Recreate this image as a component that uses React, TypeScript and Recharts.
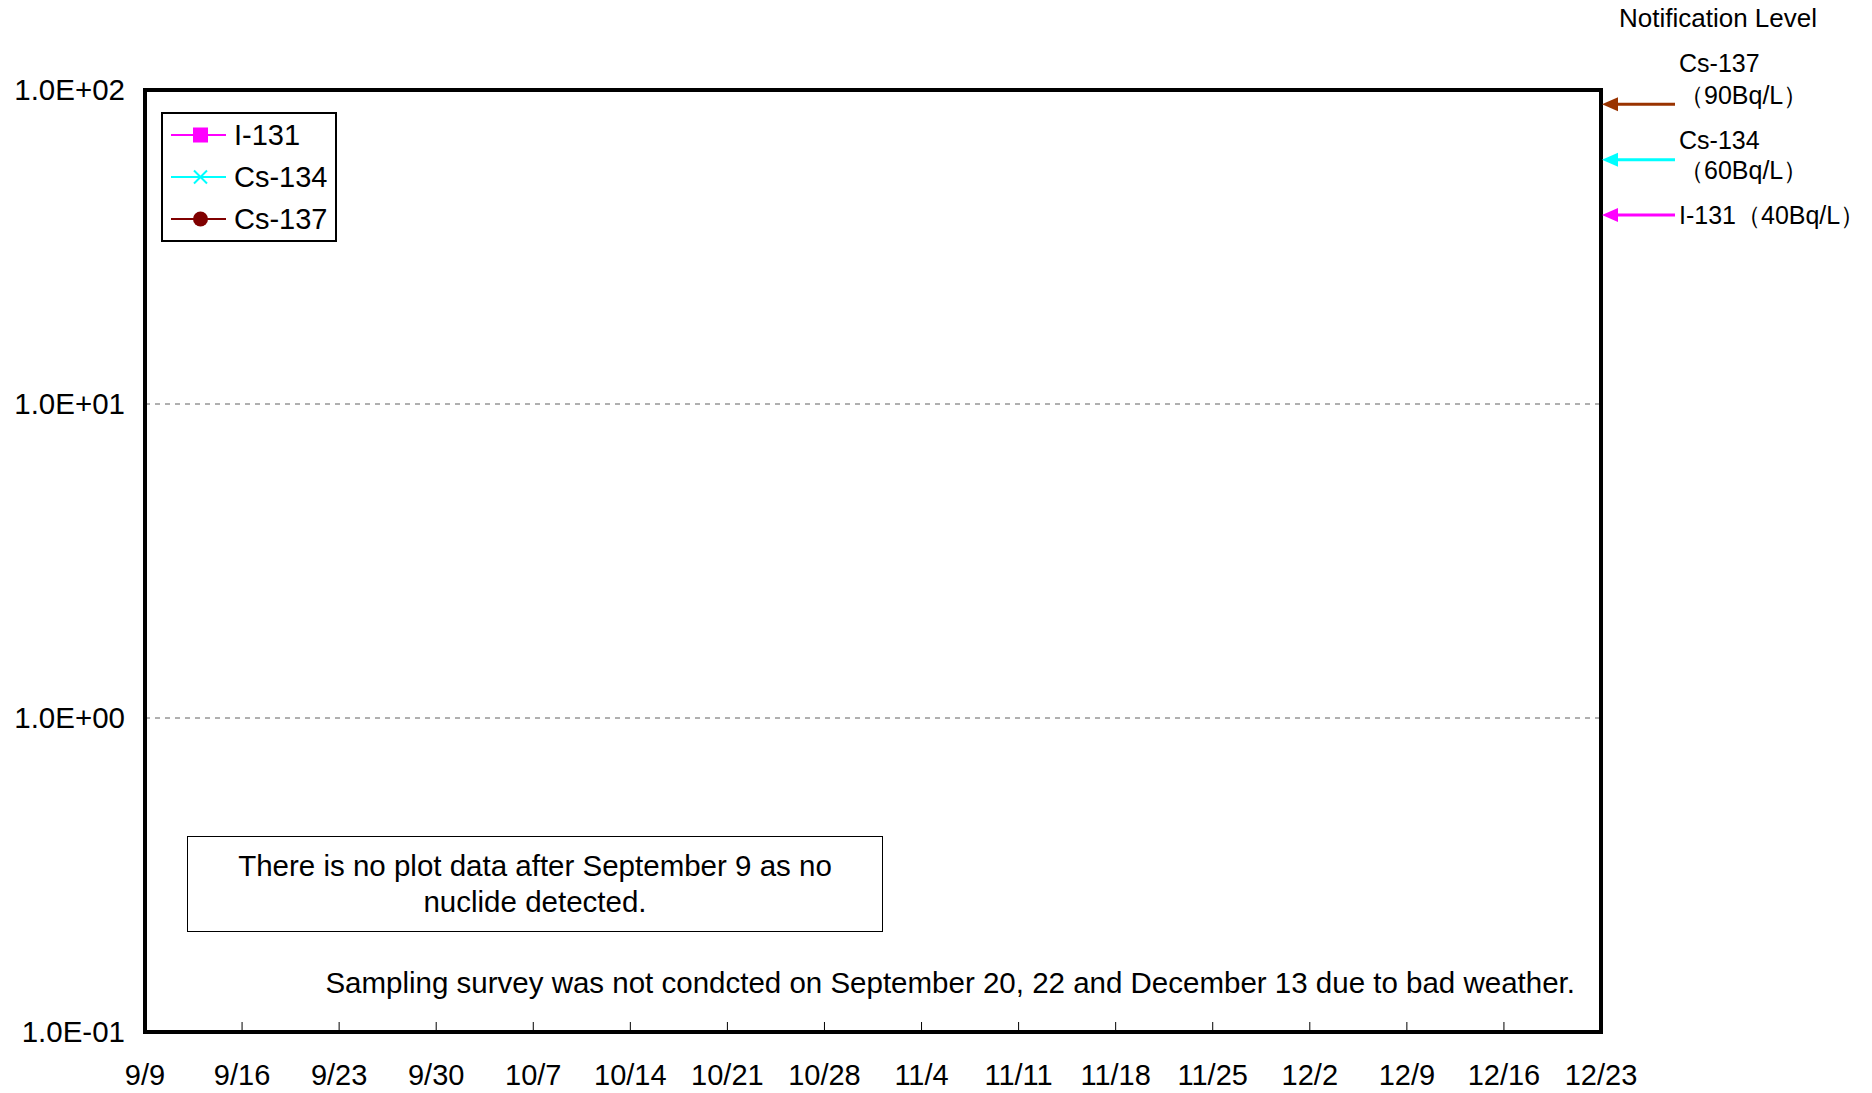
import React from 'react';
import { LineChart, Line, XAxis, YAxis, CartesianGrid, Legend, ReferenceLine, ReferenceArea } from 'recharts';

const FONT = '"Liberation Sans", Arial, sans-serif';

// x axis: weekly ticks, counted in days from 9/9
const dateLabels = ['9/9', '9/16', '9/23', '9/30', '10/7', '10/14', '10/21', '10/28', '11/4', '11/11', '11/18', '11/25', '12/2', '12/9', '12/16', '12/23'];
const dayOffsets = [0, 7, 14, 21, 28, 35, 42, 49, 56, 63, 70, 77, 84, 91, 98, 105];
const yTicks = [0.1, 1, 10, 100];

// no nuclide detected after 9/9, so nothing is plotted
const i131Values: (number | null)[] = [null, null, null, null, null, null, null, null, null, null, null, null, null, null, null, null];
const cs134Values: (number | null)[] = [null, null, null, null, null, null, null, null, null, null, null, null, null, null, null, null];
const cs137Values: (number | null)[] = [null, null, null, null, null, null, null, null, null, null, null, null, null, null, null, null];

const seriesKeys = ['i131', 'cs134', 'cs137'];
const seriesNames = ['I-131', 'Cs-134', 'Cs-137'];
const seriesColors = ['#FF00FF', '#00FFFF', '#800000'];

// notification levels (Bq/L)
const notifNames = ['Cs-137', 'Cs-134', 'I-131'];
const notifLevels = [90, 60, 40];
const notifColors = ['#993300', '#00FFFF', '#FF00FF'];

const data = dayOffsets.map((day, i) => ({
  day,
  i131: i131Values[i],
  cs134: cs134Values[i],
  cs137: cs137Values[i],
}));

const formatExp = (v: number) => {
  const e = Math.round(Math.log10(v));
  return `1.0E${e < 0 ? '-' : '+'}${String(Math.abs(e)).padStart(2, '0')}`;
};

const XTick = (props: any) => {
  const { x, y, payload } = props;
  const idx = dayOffsets.indexOf(payload.value);
  return (
    <g>
      <line x1={x} x2={x} y1={y} y2={y - 10} stroke="#000" strokeWidth={1} />
      <text x={x} y={y + 53} textAnchor="middle" fontSize={29} fontFamily={FONT} fill="#000">
        {dateLabels[idx]}
      </text>
    </g>
  );
};

const Marker = ({ name, color }: { name: string; color: string }) => {
  if (name === 'I-131') return <rect x={30} y={13.5} width={15} height={15} fill={color} />;
  if (name === 'Cs-134')
    return (
      <g stroke={color} strokeWidth={2}>
        <line x1={31} y1={14.5} x2={44} y2={27.5} />
        <line x1={44} y1={14.5} x2={31} y2={27.5} />
      </g>
    );
  return <circle cx={37.5} cy={21} r={7.5} fill={color} />;
};

const LegendBox = () => (
  <div style={{ width: 172, height: 126, border: '2px solid #000', background: '#fff', display: 'flex', flexDirection: 'column' }}>
    {seriesNames.map((name, i) => (
      <div key={name} style={{ height: 42, display: 'flex', alignItems: 'center' }}>
        <svg width={71} height={42} style={{ flexShrink: 0 }}>
          <line x1={8} x2={63} y1={21} y2={21} stroke={seriesColors[i]} strokeWidth={2} />
          <Marker name={name} color={seriesColors[i]} />
        </svg>
        <span style={{ fontFamily: FONT, fontSize: 29, lineHeight: 1, color: '#000' }}>{name}</span>
      </div>
    ))}
  </div>
);

// label placement next to each notification arrow
const notifLayout = [
  { nameDy: -41, levelDy: -9 },
  { nameDy: -20, levelDy: 10 },
  { nameDy: 0, levelDy: 0 },
];

const NotifArrow = (props: any) => {
  const { viewBox, idx } = props;
  const x = viewBox.x + viewBox.width;
  const y = viewBox.y;
  const color = notifColors[idx];
  const level = `（${notifLevels[idx]}Bq/L）`;
  const lay = notifLayout[idx];
  return (
    <g>
      <line x1={x + 12} x2={x + 74} y1={y} y2={y} stroke={color} strokeWidth={3} />
      <polygon points={`${x + 1},${y} ${x + 17},${y - 7} ${x + 17},${y + 7}`} fill={color} />
      {notifNames[idx] === 'I-131' ? (
        <text x={x + 78} y={y + 9} fontSize={25} fontFamily={FONT} fill="#000">
          {notifNames[idx] + level}
        </text>
      ) : (
        <g>
          <text x={x + 78} y={y + lay.nameDy + 9} fontSize={25} fontFamily={FONT} fill="#000">
            {notifNames[idx]}
          </text>
          <text x={x + 78} y={y + lay.levelDy + 9} fontSize={25} fontFamily={FONT} fill="#000">
            {level}
          </text>
        </g>
      )}
    </g>
  );
};

const App: React.FC = () => {
  return (
    <div style={{ position: 'absolute', left: 0, top: 0, width: 1872, height: 1093, background: '#fff' }}>
      <LineChart width={1872} height={1093} data={data} margin={{ top: 90, right: 271, bottom: 0, left: 0 }}>
        <CartesianGrid vertical={false} stroke="#606060" strokeDasharray="5 5" />
        <XAxis
          dataKey="day"
          type="number"
          domain={[0, 105]}
          ticks={dayOffsets}
          height={61}
          axisLine={false}
          tickLine={false}
          tickSize={0}
          tickMargin={0}
          tick={<XTick />}
          interval={0}
        />
        <YAxis
          scale="log"
          domain={[0.1, 100]}
          ticks={yTicks}
          allowDataOverflow
          width={145}
          axisLine={false}
          tickLine={false}
          tickSize={0}
          tickMargin={20}
          tickFormatter={formatExp}
          tick={{ fontSize: 29.5, fill: '#000', fontFamily: FONT }}
          interval={0}
        />
        {seriesKeys.map((key, i) => (
          <Line
            key={key}
            dataKey={key}
            name={seriesNames[i]}
            stroke={seriesColors[i]}
            strokeWidth={2}
            isAnimationActive={false}
          />
        ))}
        {notifLevels.map((lv, i) => (
          <ReferenceLine key={lv} y={lv} strokeWidth={0} stroke="none" label={(p: any) => <NotifArrow {...p} idx={i} />} />
        ))}
        <ReferenceArea x1={0} x2={105} y1={0.1} y2={100} fill="none" stroke="#000" strokeWidth={4} ifOverflow="visible" />
        <Legend
          layout="vertical"
          align="center"
          verticalAlign="middle"
          content={() => <LegendBox />}
          wrapperStyle={{ left: 161, top: 112, width: 176, height: 130 }}
        />
      </LineChart>

      <div style={{ position: 'absolute', left: 1617, top: 2, width: 202, textAlign: 'center', fontFamily: FONT, fontSize: 26, lineHeight: '32px', color: '#000' }}>
        Notification Level
      </div>

      <div
        style={{
          position: 'absolute',
          left: 187,
          top: 836,
          width: 694,
          height: 94,
          border: '1.5px solid #000',
          display: 'flex',
          alignItems: 'center',
          justifyContent: 'center',
          textAlign: 'center',
          fontFamily: FONT,
          fontSize: 29.5,
          lineHeight: '36px',
          color: '#000',
        }}
      >
        There is no plot data after September 9 as no
        <br />
        nuclide detected.
      </div>

      <div style={{ position: 'absolute', right: 297, top: 967, whiteSpace: 'nowrap', fontFamily: FONT, fontSize: 29.5, lineHeight: '32px', color: '#000' }}>
        Sampling survey was not condcted on September 20, 22 and December 13 due to bad weather.
      </div>
    </div>
  );
};

export default App;
